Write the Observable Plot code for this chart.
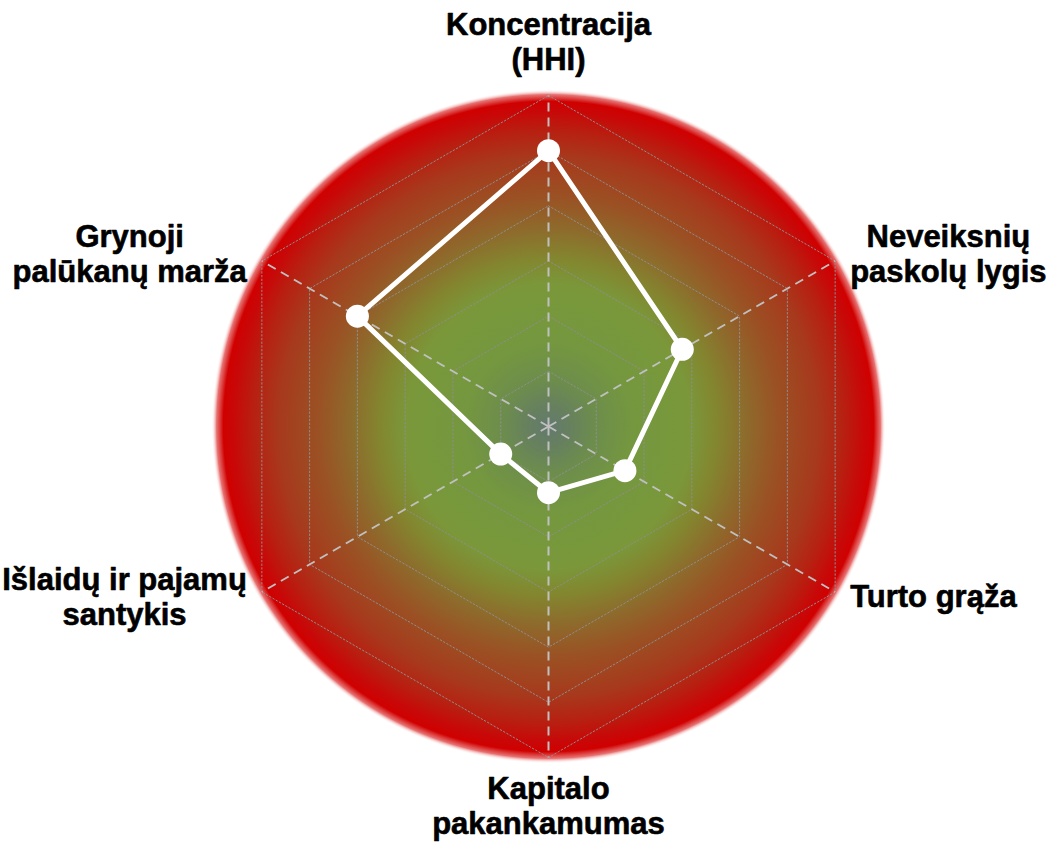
<!DOCTYPE html>
<html><head><meta charset="utf-8">
<script src="https://cdn.jsdelivr.net/npm/d3@7"></script>
<script src="https://cdn.jsdelivr.net/npm/@observablehq/plot@0.6"></script>
<style>body{margin:0;background:#fff}#chart svg{display:block}</style>
</head><body><div id="chart"></div>
<script>
// ---- data ----
const axisLabels = [
  "Koncentracija\n(HHI)",
  "Neveiksnių\npaskolų lygis",
  "Turto grąža",
  "Kapitalo\npakankamumas",
  "Išlaidų ir pajamų\nsantykis",
  "Grynoji\npalūkanų marža"
];
const values = [5.0, 2.8, 1.6, 1.2, 1.0, 4.0];
const gridLevels = [1, 2, 3, 4, 5, 6];
const maxValue = 6;

// ---- layout ----
const W = 1054, H = 844, cx = 548, cy = 426, R = 331;
const k = R / maxValue; // px per unit
const n = axisLabels.length;
const angle = i => 2 * Math.PI * i / n;
const polar = (v, i) => ({x: v * Math.sin(angle(i)), y: v * Math.cos(angle(i))});

const dataPts = values.map((v, i) => ({...polar(v, i), label: axisLabels[i], value: v}));
const dataLine = [...dataPts, dataPts[0]];
const grid = gridLevels.flatMap(l => d3.range(n + 1).map(i => ({...polar(l, i % n), level: l})));
const spokes = axisLabels.map((a, i) => {
  const p = polar(maxValue, i);
  return {x1: 0, y1: 0, x2: p.x, y2: p.y};
});

const FONT = 31;
const ctx = document.createElement("canvas").getContext("2d");
ctx.font = `bold ${FONT}px 'Liberation Sans'`;
const labels = axisLabels.map((a, i) => {
  const p = polar(maxValue, i);
  const s = Math.sin(angle(i)), c = Math.cos(angle(i));
  const w = d3.max(a.split("\n"), t => ctx.measureText(t).width);
  let dx = 0, dy = 0;
  if (Math.abs(s) < 1e-6) { dy = c > 0 ? -54 : 48; }
  else { dx = Math.sign(s) * (15 + w / 2); dy = c > 0 ? -8 : 4; }
  return {x: p.x + dx / k, y: p.y - dy / k, text: a};
});

const svg = Plot.plot({
  width: W, height: H,
  margin: 0,
  style: {background: "#fff", overflow: "visible"},
  x: {domain: [-cx / k, (W - cx) / k], axis: null},
  y: {domain: [-(H - cy) / k, cy / k], axis: null},
  marks: [
    Plot.dot([{x: 0, y: 0}], {x: "x", y: "y", r: 337, fill: "url(#bgGrad)", stroke: "none"}),
    Plot.line(grid, {x: "x", y: "y", z: "level", stroke: "#8e8e8e", strokeWidth: 1, strokeDasharray: "1.5,2.2", curve: "linear"}),
    Plot.link(spokes, {x1: "x1", y1: "y1", x2: "x2", y2: "y2", stroke: "#c0c0c0", strokeWidth: 2, strokeDasharray: "9,6"}),
    Plot.line(dataLine, {x: "x", y: "y", stroke: "#fff", strokeWidth: 5, strokeLinejoin: "round"}),
    Plot.dot(dataPts, {x: "x", y: "y", r: 11.5, fill: "#fff", stroke: "none"}),
    Plot.text(labels, {x: "x", y: "y", text: "text", fontSize: FONT, fontWeight: "bold",
      fontFamily: "'Liberation Sans', Arial, sans-serif", fill: "#000", stroke: "#000", strokeWidth: 0.6,
      lineHeight: 1.13, textAnchor: "middle", lineAnchor: "middle"})
  ]
});

const stops = [
  [0, "#637a6e", 1], [0.06, "#66805f", 1], [0.14, "#6d8d4c", 1], [0.25, "#74973f", 1],
  [0.42, "#7a983a", 1], [0.5, "#83862f", 1], [0.59, "#8e6a2c", 1], [0.68, "#9a5224", 1],
  [0.8, "#a7391c", 1], [0.88, "#b81f10", 1], [0.935, "#c80808", 1], [0.965, "#d00000", 1],
  [0.985, "#d71414", 0.6], [1, "#ffffff", 0]
];
const defs = d3.select(svg).insert("defs", ":first-child");
const g = defs.append("radialGradient").attr("id", "bgGrad").attr("cx", "50%").attr("cy", "50%").attr("r", "50%");
stops.forEach(([o, c, a]) => g.append("stop").attr("offset", o).attr("stop-color", c).attr("stop-opacity", a));

document.getElementById("chart").append(svg);
</script>
</body></html>
